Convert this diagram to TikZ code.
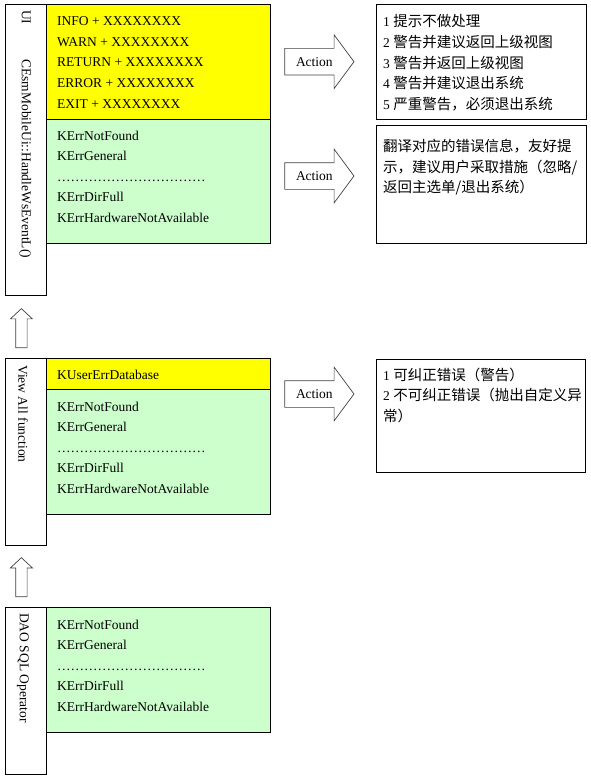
\documentclass[tikz,border=0pt]{standalone}
\usepackage{fontspec}
\setmainfont{Liberation Serif}
\newfontfamily\cjk{Noto Sans CJK SC}
\usetikzlibrary{shapes.arrows}
\definecolor{warnyellow}{HTML}{FFFF00}
\definecolor{errgreen}{HTML}{CCFFCC}
\newcommand{\zh}[1]{{\cjk\fontsize{14.5}{20.6}\selectfont #1}}
\newcommand{\dotgroup}{…}
\newcommand{\dotrow}{\dotgroup\dotgroup\dotgroup\dotgroup\dotgroup\dotgroup\dotgroup\dotgroup\dotgroup\dotgroup\dotgroup}
\begin{document}
\begin{tikzpicture}[x=1pt,y=-1pt]
	\tikzstyle{every node}=[font=\fontsize{13.5}{20.6}\selectfont]
	\tikzstyle{layer}=[draw,line width=0.8pt,anchor=north west,inner sep=0pt,minimum width=41pt]
	\tikzstyle{warnbox}=[draw,line width=0.8pt,fill=warnyellow,anchor=north west,inner sep=0pt,minimum width=224pt]
	\tikzstyle{errbox}=[warnbox,fill=errgreen]
	\tikzstyle{msgbox}=[draw,line width=0.8pt,anchor=north west,inner sep=0pt,minimum width=210pt]
	\tikzstyle{lines}=[anchor=north west,inner sep=0pt,align=left]
	\tikzstyle{vlabel}=[rotate=-90,anchor=west,inner sep=0pt]
	\tikzstyle{action}=[single arrow,draw=black!75,line width=0.7pt,single arrow tip angle=107,single arrow head extend=13.5pt,inner xsep=11pt,inner ysep=8.5pt,text height=9pt,text depth=0pt,anchor=tail]
	\tikzstyle{uparrow}=[single arrow,draw=black!75,line width=0.7pt,rotate=90,single arrow tip angle=94,single arrow head extend=5.3pt,inner xsep=16.5pt,inner ysep=5.35pt,text height=0pt,text depth=0pt,anchor=tail]
	\useasboundingbox (0,0) rectangle (590,780);
	% UI layer
	\node [layer,minimum height=291pt] (ui) at (5,4) {};
	\node [vlabel] (uiname) at (25,10) {UI\hspace*{35pt}CEsmMobileUi::HandleWsEventL()};
	\node [warnbox,minimum height=115pt] (uiwarn) at (46,4) {};
	\node [errbox,minimum height=124pt] (uierr) at (46,119) {};
	\node [lines] (uiwarntext) at (57,16.5) {INFO + XXXXXXXX\\WARN + XXXXXXXX\\RETURN + XXXXXXXX\\ERROR + XXXXXXXX\\EXIT + XXXXXXXX};
	\node [lines] (uierrtext) at (57,130.5) {KErrNotFound\\KErrGeneral\\\dotrow\\KErrDirFull\\KErrHardwareNotAvailable};
	\node [action] (act1) at (284.3,61.7) {Action};
	\node [action] (act2) at (284.3,176) {Action};
	\node [msgbox,minimum height=115pt] (msg1) at (376,4) {};
	\node [msgbox,minimum height=118pt] (msg2) at (376,125) {};
	\node [lines] (msg1text) at (383,14.5) {1 \zh{提示不做处理}\\2 \zh{警告并建议返回上级视图}\\3 \zh{警告并返回上级视图}\\4 \zh{警告并建议退出系统}\\5 \zh{严重警告，必须退出系统}};
	\node [lines] (msg2text) at (383,139) {\zh{翻译对应的错误信息，友好提}\\\zh{示，建议用户采取措施（忽略/}\\\zh{返回主选单/退出系统）}};
	\node [uparrow] (up1) at (21.4,348) {};
	% View layer
	\node [layer,minimum height=187pt] (view) at (5,358) {};
	\node [vlabel] (viewname) at (23,365) {View All function};
	\node [warnbox,minimum height=31pt] (viewusr) at (46,358) {};
	\node [errbox,minimum height=125pt] (viewerr) at (46,389) {};
	\node [lines] (viewusrtext) at (57,369.5) {KUserErrDatabase};
	\node [lines] (viewerrtext) at (57,401.5) {KErrNotFound\\KErrGeneral\\\dotrow\\KErrDirFull\\KErrHardwareNotAvailable};
	\node [action] (act3) at (284.3,394) {Action};
	\node [msgbox,minimum width=209pt,minimum height=113pt] (msg3) at (376,359) {};
	\node [lines] (msg3text) at (383,367.5) {1 \zh{可纠正错误（警告）}\\2 \zh{不可纠正错误（抛出自定义异}\\\zh{常）}};
	\node [uparrow] (up2) at (21.4,597) {};
	% DAO layer
	\node [layer,minimum height=167pt] (dao) at (5,607) {};
	\node [vlabel] (daoname) at (23,613) {DAO SQL Operator};
	\node [errbox,minimum height=125pt] (daoerr) at (46,607) {};
	\node [lines] (daoerrtext) at (57,619.5) {KErrNotFound\\KErrGeneral\\\dotrow\\KErrDirFull\\KErrHardwareNotAvailable};
\end{tikzpicture}
\end{document}
